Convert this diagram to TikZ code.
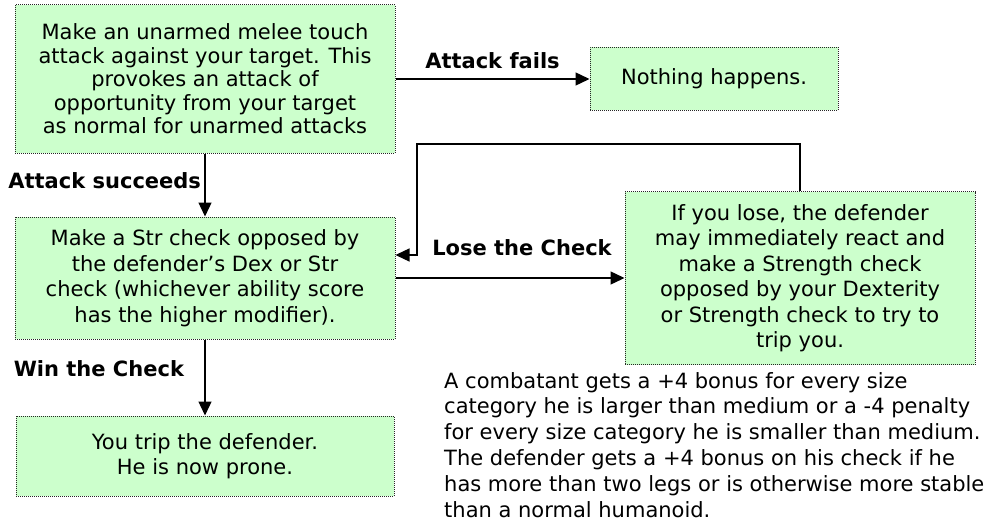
\documentclass[tikz,border=0pt]{standalone}
\usepackage{fontspec}
\setmainfont{DejaVu Sans}
\usetikzlibrary{arrows.meta, positioning}
\definecolor{boxgreen}{HTML}{CCFFCC}

\begin{document}
\begin{tikzpicture}[x=1pt, y=-1pt, auto,
    box/.style={draw=black!85, fill=boxgreen, line width=1pt, dash pattern=on 1pt off 1pt,
        align=center, inner sep=0pt, font=\fontsize{21}{25.5}\selectfont},
    flow/.style={line width=1.4pt, -{Triangle[length=14pt, width=13pt]}},
    lbl/.style={font=\fontsize{21}{25}\selectfont\bfseries}]
    \useasboundingbox (0,0) rectangle (990,524);

    % Define boxes with fixed size
    \node[box, minimum width=380pt, minimum height=148pt, font=\fontsize{21}{23.5}\selectfont] (attack) at (205,79)
        {Make an unarmed melee touch\\attack against your target. This\\provokes an attack of\\opportunity from your target\\as normal for unarmed attacks};
    \node[box, minimum width=248pt, minimum height=63pt] (nothing) at (714,79) {Nothing happens.};
    \node[box, minimum width=380pt, minimum height=122pt] (strcheck) at (205,278)
        {Make a Str check opposed by\\the defender’s Dex or Str\\check (whichever ability score\\has the higher modifier).};
    \node[box, minimum width=378pt, minimum height=80pt] (trip) at (205,456)
        {You trip the defender.\\He is now prone.};
    \node[box, minimum width=350pt, minimum height=173pt] (react) at (800,278)
        {If you lose, the defender\\may immediately react and\\make a Strength check\\opposed by your Dexterity\\or Strength check to try to\\trip you.};

    % Add transitions
    \path[flow]
    (attack) edge node[lbl, above=6pt] {Attack fails} (nothing)
    (attack) edge node[lbl, left, yshift=4pt] {Attack succeeds} (strcheck)
    (strcheck) edge node[lbl, above=18pt, xshift=12pt] {Lose the Check} (react)
    (strcheck) edge node[lbl, left=17pt, yshift=9pt] {Win the Check} (trip);

    % Back from the defender's check
    \coordinate (loopcorner) at (417,144);
    \draw[flow] (react.north) |- (loopcorner) |- ([yshift=23pt]strcheck.east);

    % Size note
    \node[anchor=north west, inner sep=0pt, align=left, font=\fontsize{21}{25.8}\selectfont] (note) at (444,372)
        {A combatant gets a +4 bonus for every size\\category he is larger than medium or a -4 penalty\\for every size category he is smaller than medium.\\The defender gets a +4 bonus on his check if he\\has more than two legs or is otherwise more stable\\than a normal humanoid.};
\end{tikzpicture}
\end{document}
